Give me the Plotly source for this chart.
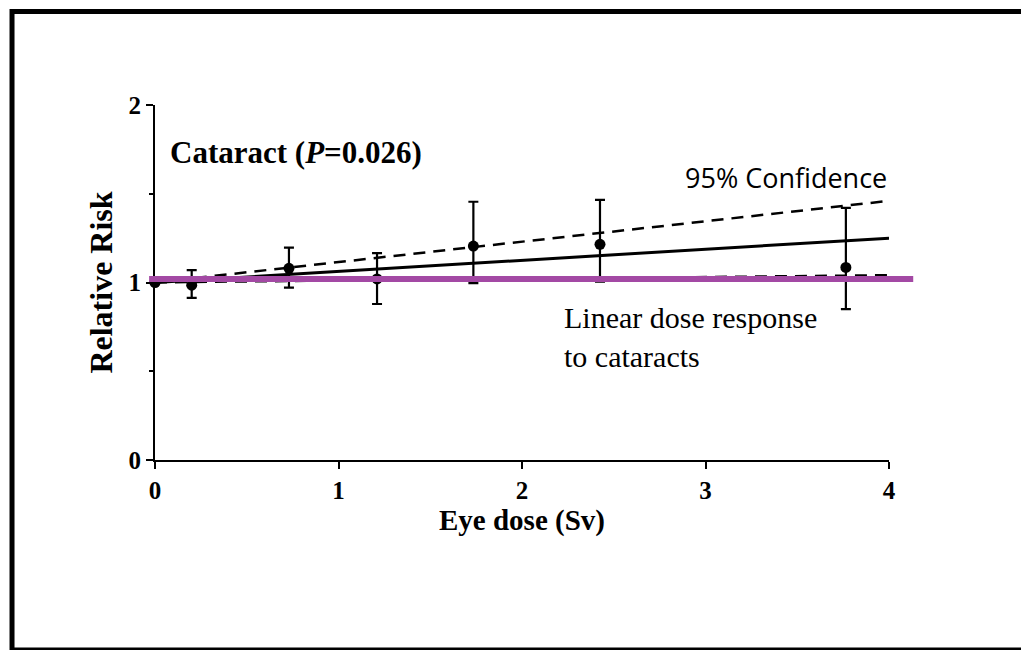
import plotly.graph_objects as go

# ---- data ----
dose = [0.0, 0.2, 0.73, 1.21, 1.735, 2.425, 3.765]
relative_risk = [1.0, 0.985, 1.08, 1.02, 1.205, 1.215, 1.085]
err_upper = [1.0, 1.07, 1.196, 1.165, 1.455, 1.465, 1.42]
err_lower = [1.0, 0.913, 0.971, 0.879, 0.997, 1.005, 0.85]

fit_x = [0, 4]
fit_y = [1.0, 1.25]
ci_hi_y = [1.0, 1.46]
ci_lo_y = [1.0, 1.042]
purple_level = 1.02

x_ticks = [0, 1, 2, 3, 4]
y_ticks = [0, 1, 2]

serif = "Liberation Serif"

fig = go.Figure()

fig.add_trace(go.Scatter(x=fit_x, y=ci_lo_y, mode="lines",
                         line=dict(color="black", width=2.2, dash="12px,8px"),
                         showlegend=False, hoverinfo="skip"))
fig.add_trace(go.Scatter(x=fit_x, y=ci_hi_y, mode="lines",
                         line=dict(color="black", width=2.5, dash="12px,8px"),
                         showlegend=False, hoverinfo="skip"))
fig.add_trace(go.Scatter(x=fit_x, y=fit_y, mode="lines",
                         line=dict(color="black", width=3),
                         showlegend=False, hoverinfo="skip"))

plus = [u - r for u, r in zip(err_upper, relative_risk)]
minus = [r - l for r, l in zip(relative_risk, err_lower)]
fig.add_trace(go.Scatter(
    x=dose, y=relative_risk, mode="markers",
    marker=dict(color="black", size=11),
    error_y=dict(type="data", array=plus, arrayminus=minus, visible=True,
                 color="black", thickness=2.2, width=5),
    cliponaxis=False, showlegend=False))

# purple line (extends past the x axis end)
fig.add_shape(type="line", xref="paper", yref="y",
              x0=-0.008, x1=1.033, y0=purple_level, y1=purple_level,
              line=dict(color="#A349A4", width=6), layer="above")

# outer frame (right side cut off by the image edge)
fig.add_shape(type="rect", xref="paper", yref="paper",
              x0=-0.1948, x1=1.30, y0=-0.535, y1=1.2634,
              line=dict(color="black", width=5), layer="below")

fig.add_annotation(x=0.071, y=1.735, xref="x", yref="y", xanchor="left", yanchor="middle",
                   text="Cataract (<i>P</i>=0.026)", showarrow=False,
                   font=dict(family=serif, size=31, color="black", weight="bold"))
fig.add_annotation(x=4.0, y=1.589, xref="x", yref="y", xanchor="right", yanchor="middle",
                   text="95% Confidence", showarrow=False,
                   font=dict(family="Open Sans", size=27, color="black"))
fig.add_annotation(x=2.218, y=0.693, xref="x", yref="y", xanchor="left", yanchor="middle",
                   align="left", text="Linear dose response<br>to cataracts", showarrow=False,
                   font=dict(family=serif, size=30, color="black"))

fig.update_xaxes(range=[0, 4], tickvals=x_ticks, showgrid=False, zeroline=False,
                 showline=True, linecolor="black", linewidth=2,
                 ticks="outside", ticklen=7, tickwidth=2, tickcolor="black",
                 tickfont=dict(family=serif, size=25, color="black", weight="bold"),
                 title=dict(text="Eye dose (Sv)", standoff=4,
                            font=dict(family=serif, size=29, color="black", weight="bold")))
fig.update_yaxes(range=[0, 2], tickvals=y_ticks, showgrid=False, zeroline=False,
                 showline=True, linecolor="black", linewidth=2,
                 ticks="outside", ticklen=7, tickwidth=2, tickcolor="black",
                 minor=dict(dtick=0.5, ticks="outside", ticklen=4, tickwidth=1.5, tickcolor="black"),
                 tickfont=dict(family=serif, size=25, color="black", weight="bold"),
                 title=dict(text="Relative Risk", standoff=6,
                            font=dict(family=serif, size=32, color="black", weight="bold")))

fig.update_layout(width=1021, height=650, plot_bgcolor="white", paper_bgcolor="white",
                  margin=dict(l=155, r=132, t=105, b=190), showlegend=False)

fig.write_html("out.html")
